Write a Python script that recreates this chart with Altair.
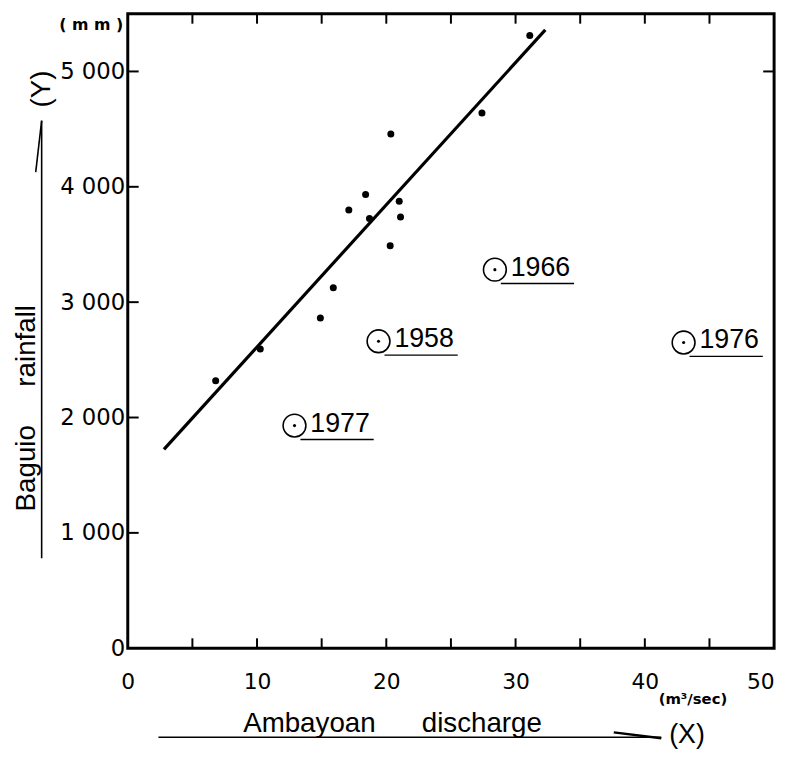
import altair as alt
import pandas as pd

# --- data ---
pt_x = [6.8, 10.25, 14.9, 15.9, 17.1, 18.4, 18.7, 20.3, 20.35, 21.0, 21.1, 27.4, 31.1]
pt_y = [2318, 2593, 2862, 3124, 3799, 3934, 3725, 3488, 4457, 3874, 3739, 4640, 5311]

an_year = ["1977", "1958", "1966", "1976"]
an_x = [12.9, 19.4, 28.4, 43.0]
an_y = [1930, 2661, 3282, 2650]

fit_x = [2.8, 32.3]
fit_y = [1724, 5360]

x_ticks_minor = [5, 10, 15, 20, 25, 30, 35, 40, 45]
x_labels = [0, 10, 20, 30, 40, 50]
y_labels = [0, 1000, 2000, 3000, 4000, 5000]
y_ticks = [1000, 2000, 3000, 4000, 5000]
y_ticks_right = [5000]

NB = "\u00a0"
x_title = "Ambayoan" + NB * 6 + "discharge"
y_title = "Baguio" + NB * 5 + "rainfall"

W, H = 653, 641
LEFT, TOP = 121, 2

pts = pd.DataFrame({"x": pt_x, "y": pt_y})
anom = pd.DataFrame({"x": an_x, "y": an_y, "year": an_year})
fit = pd.DataFrame({"x": fit_x, "y": fit_y})

xscale = alt.Scale(domain=[0, 50], nice=False, zero=True)
yscale = alt.Scale(domain=[0, 5500], nice=False, zero=True)

xaxis = alt.Axis(values=x_labels, title=x_title, grid=False, ticks=False,
                 tickSize=0, domain=False, labelFont="DejaVu Sans", labelFontSize=22,
                 labelColor="black", labelPadding=24, labelFlush=False, labelOverlap=False,
                 labelAlign={"expr": "datum.value == 50 ? 'right' : 'center'"},
                 titleFont="Liberation Sans", titleFontSize=28, titleFontWeight="normal",
                 titleColor="black", titleX=267, titleY=84, titleBaseline="alphabetic",
                 titleAlign="center", titleAnchor="start")
yaxis = alt.Axis(values=y_labels, title=y_title, grid=False, ticks=False,
                 tickSize=0, domain=False, labelFont="DejaVu Sans", labelFontSize=23,
                 labelColor="black", labelPadding=3, labelFlush=False, labelOverlap=False,
                 labelExpr="replace(format(datum.value, ','), ',', ' ')",
                 titleFont="Liberation Sans", titleFontSize=28, titleFontWeight="normal",
                 titleColor="black", titleAngle=270, titleX=-94, titleY=398,
                 titleBaseline="alphabetic", titleAlign="center", titleAnchor="start")


def X(field="x"):
    return alt.X(f"{field}:Q", scale=xscale, axis=xaxis)


def Y(field="y"):
    return alt.Y(f"{field}:Q", scale=yscale, axis=yaxis)


scatter = alt.Chart(pts).mark_circle(size=50, color="black", opacity=1).encode(x=X(), y=Y())

fit_line = alt.Chart(fit).mark_line(color="black", strokeWidth=3.2).encode(x=X(), y=Y())

rings = alt.Chart(anom).mark_point(shape="circle", size=530, filled=False, color="black",
                                   strokeWidth=1.6, opacity=1).encode(x=X(), y=Y())
centers = alt.Chart(anom).mark_circle(size=10, color="black", opacity=1).encode(x=X(), y=Y())
labels = alt.Chart(anom).mark_text(align="left", baseline="middle", dx=16, dy=-2,
                                   font="Liberation Sans", fontSize=27,
                                   color="black").encode(x=X(), y=Y(), text="year:N")
underl = alt.Chart(anom).mark_rule(color="black", strokeWidth=1.4, xOffset=6, x2Offset=80,
                                   yOffset=14, y2Offset=14).encode(
    x=X(), x2="x:Q", y=Y(), y2="y:Q")

tx = pd.DataFrame({"x": x_ticks_minor})
bot_ticks = alt.Chart(tx).mark_rule(color="black", strokeWidth=2).encode(
    x=X(), y=alt.value(H), y2=alt.value(H - 10))
top_ticks = alt.Chart(tx).mark_rule(color="black", strokeWidth=2).encode(
    x=X(), y=alt.value(0), y2=alt.value(10))
ty = pd.DataFrame({"y": y_ticks})
left_ticks = alt.Chart(ty).mark_rule(color="black", strokeWidth=2).encode(
    y=Y(), x=alt.value(0), x2=alt.value(11))
tyr = pd.DataFrame({"y": y_ticks_right})
right_ticks = alt.Chart(tyr).mark_rule(color="black", strokeWidth=2).encode(
    y=Y(), x=alt.value(W), x2=alt.value(W - 11))


def px(page_x):
    return page_x - 8 - LEFT


def py(page_y):
    return page_y - 8 - TOP


def note(text, page_x, page_y, size, angle=0, weight="normal", font="Liberation Sans"):
    return alt.Chart(pd.DataFrame({"t": [text]})).mark_text(
        align="center", baseline="middle", fontSize=size, angle=angle, fontWeight=weight,
        font=font, color="black").encode(x=alt.value(px(page_x)), y=alt.value(py(page_y)),
                                         text="t:N")


def seg(x1, y1, x2, y2, w=1.6):
    return alt.Chart(pd.DataFrame({"a": [0]})).mark_rule(color="black", strokeWidth=w).encode(
        x=alt.value(px(x1)), y=alt.value(py(y1)), x2=alt.value(px(x2)), y2=alt.value(py(y2)))


decor = [
    note("(" + NB + "m" + NB + "m" + NB + ")", 92, 21, 16, weight="bold", font="DejaVu Sans"),
    note("(Y)", 42, 86, 28, angle=270),
    note("(X)", 694, 739, 27),
    note("(m³/sec)", 700, 702, 15, weight="bold", font="DejaVu Sans"),
    seg(42, 560, 42, 118),
    seg(36, 170, 42, 118),
    seg(160, 741, 668, 741),
    seg(620, 736, 668, 742, 2.5),
]

chart = alt.layer(
    bot_ticks, top_ticks, left_ticks, right_ticks,
    fit_line, scatter, rings, centers, labels, underl, *decor
).properties(
    width=W, height=H,
    autosize=alt.AutoSizeParams(type="none"),
    padding={"left": LEFT, "top": TOP, "right": 10, "bottom": 100},
).configure(
    background="white"
).configure_view(
    stroke="black", strokeWidth=3
)

chart.save("out.html", embed_options={"renderer": "svg", "actions": False})
